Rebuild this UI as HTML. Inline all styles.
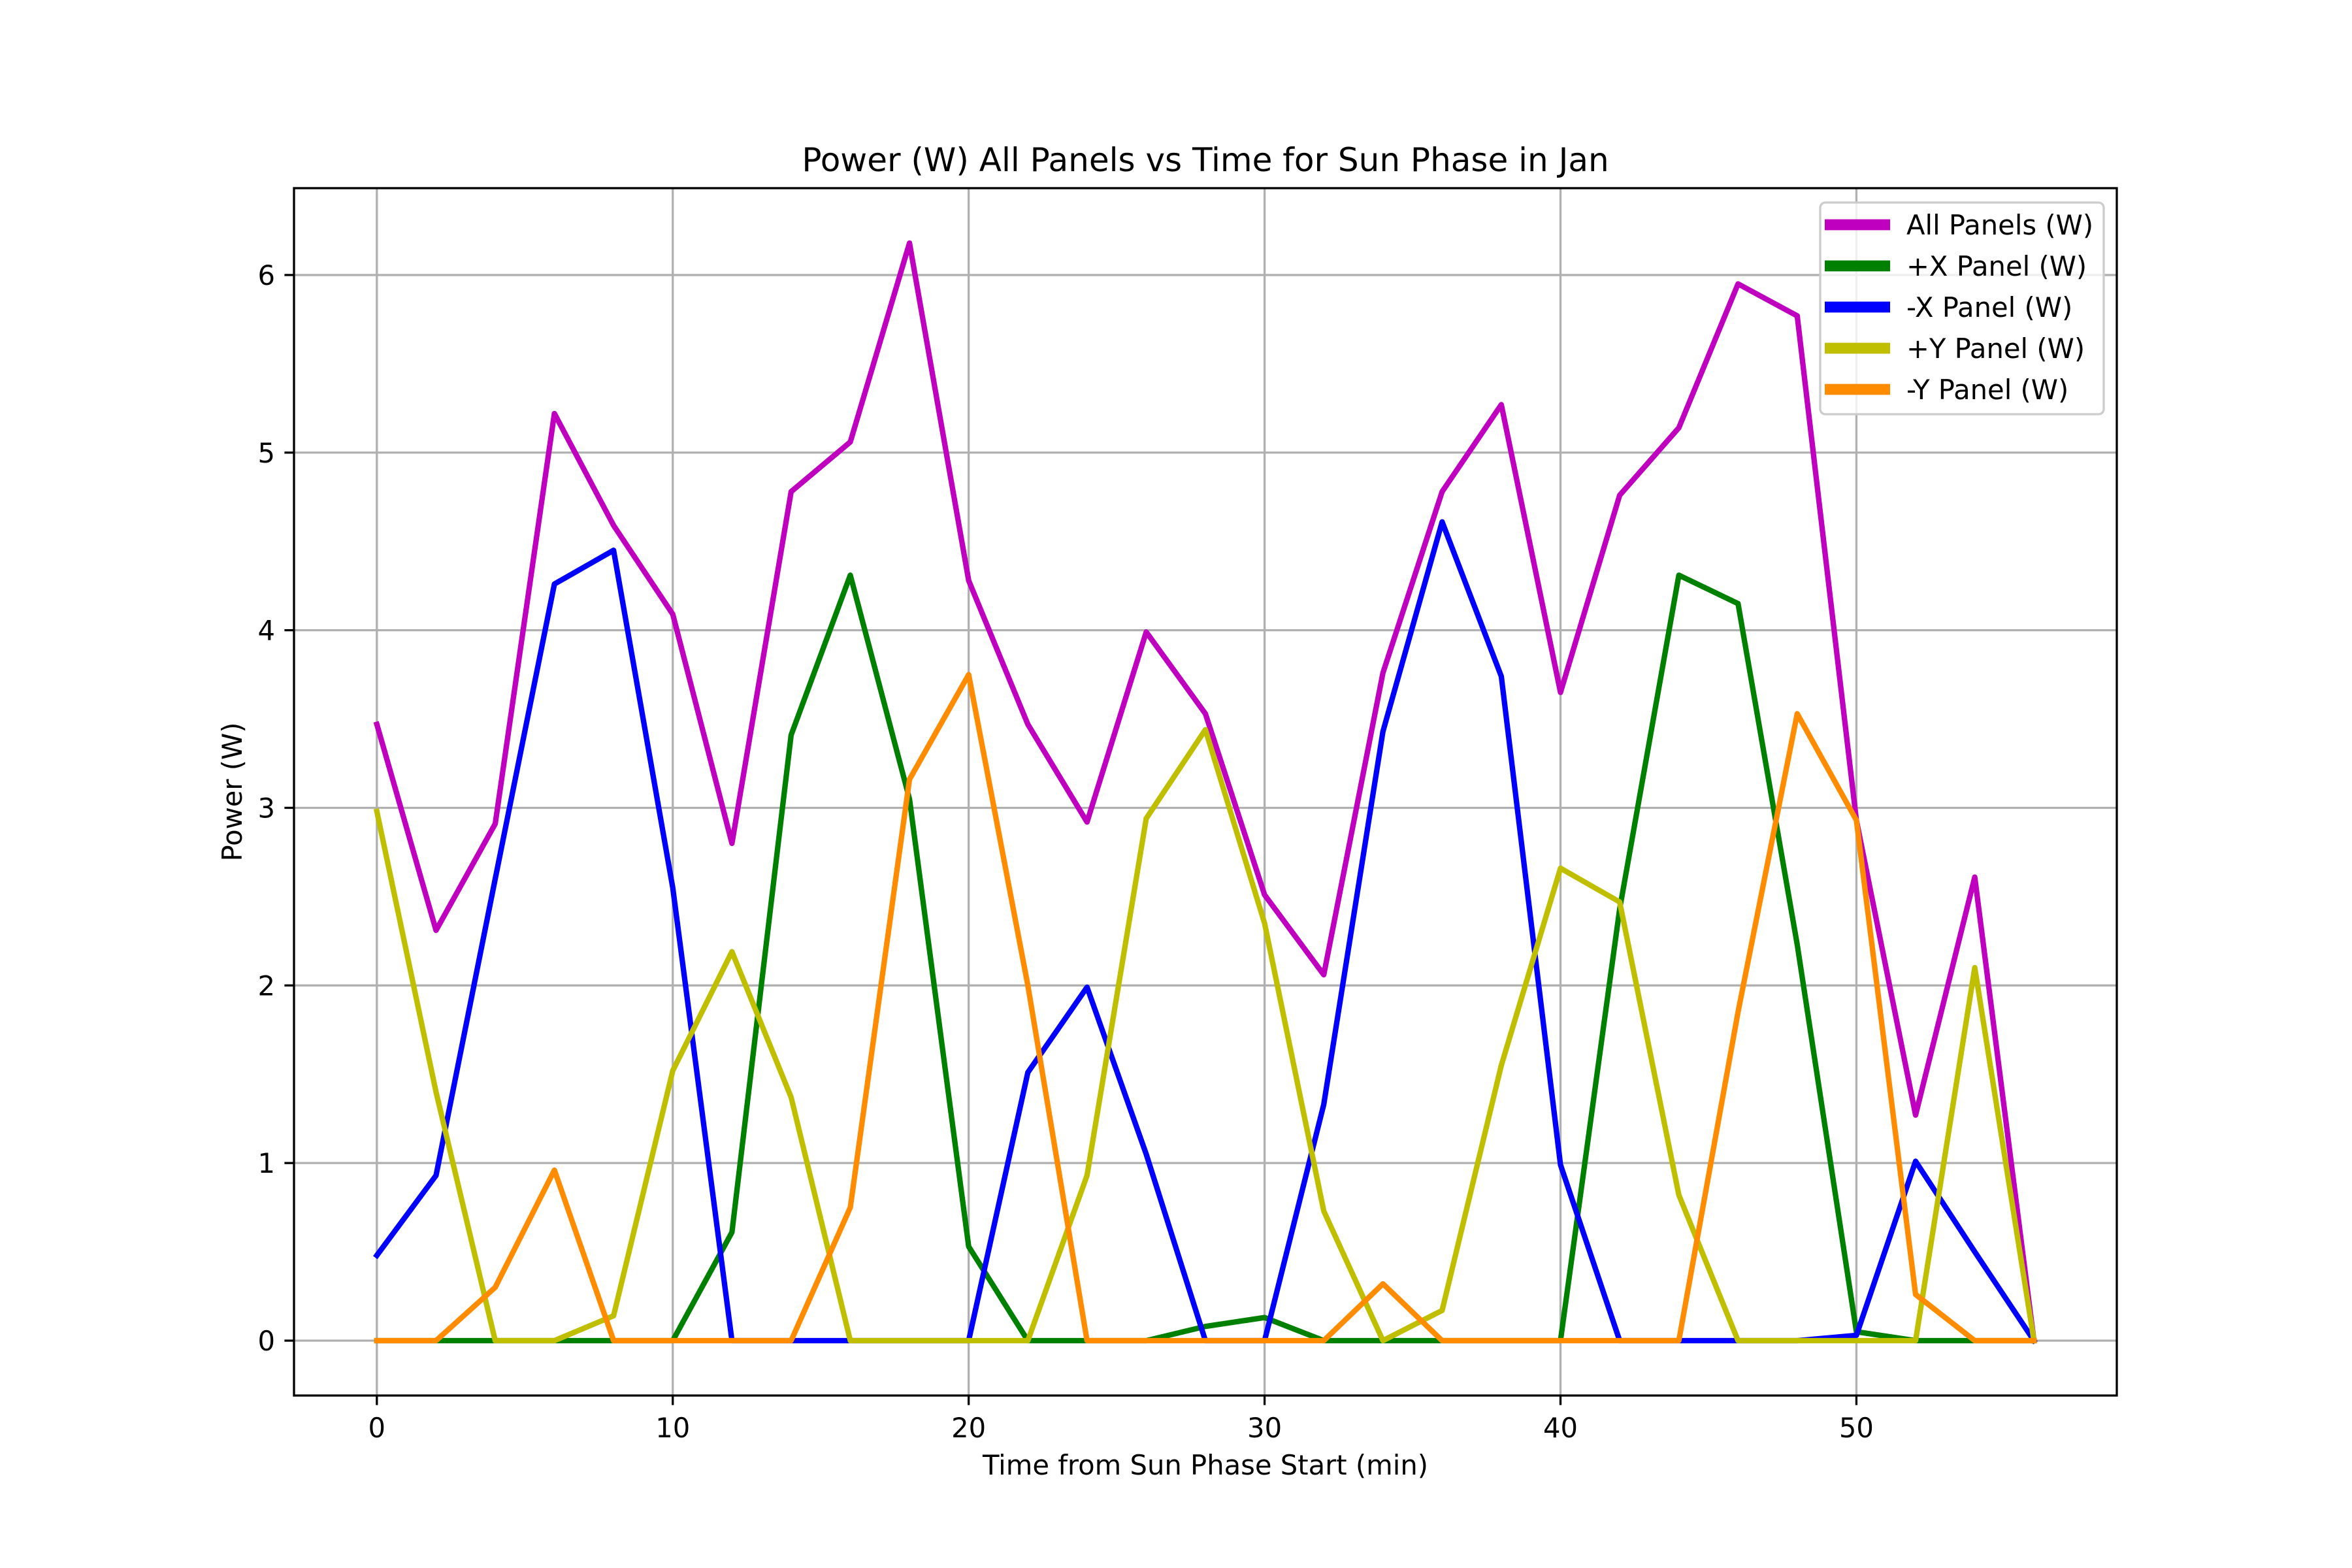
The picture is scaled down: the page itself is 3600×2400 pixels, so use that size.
<!DOCTYPE html>
<html><head><meta charset="utf-8"><style>
html,body{margin:0;padding:0;background:#fff}
svg{display:block;font-family:"DejaVu Sans","Liberation Sans",sans-serif}
</style></head><body>
<svg id="chart" width="3600" height="2400" viewBox="0 0 3600 2400" xmlns="http://www.w3.org/2000/svg">
<rect width="3600" height="2400" fill="#fff"/>
</svg>
<script>
const times = [0,2,4,6,8,10,12,14,16,18,20,22,24,26,28,30,32,34,36,38,40,42,44,46,48,50,52,54,56];
const allPanels = [3.47,2.31,2.91,5.22,4.59,4.09,2.80,4.78,5.06,6.18,4.28,3.47,2.92,3.99,3.53,2.51,2.06,3.76,4.78,5.27,3.65,4.76,5.14,5.95,5.77,2.93,1.27,2.61,0];
const plusX = [0,0,0,0,0,0,0.61,3.41,4.31,3.05,0.53,0,0,0,0.08,0.13,0,0,0,0,0,2.43,4.31,4.15,2.23,0.05,0,0,0];
const minusX = [0.48,0.93,2.6,4.26,4.45,2.55,0,0,0,0,0,1.51,1.99,1.05,0,0,1.33,3.43,4.61,3.74,0.99,0,0,0,0,0.03,1.01,0.5,0];
const plusY = [2.98,1.4,0,0,0.14,1.52,2.19,1.37,0,0,0,0,0.93,2.94,3.44,2.35,0.73,0,0.17,1.55,2.66,2.47,0.82,0,0,0,0,2.1,0];
const minusY = [0,0,0.3,0.96,0,0,0,0,0.75,3.16,3.75,2.0,0,0,0,0,0,0.32,0,0,0,0,0,1.85,3.53,2.93,0.26,0,0];
const xTicks = [0,10,20,30,40,50];
const yTicks = [0,1,2,3,4,5,6];
const seriesNames = ["All Panels (W)","+X Panel (W)","-X Panel (W)","+Y Panel (W)","-Y Panel (W)"];
const seriesColors = ["#bf00bf","#008000","#0000ff","#bfbf00","#ff8c00"];

const NS="http://www.w3.org/2000/svg";
const svg=document.getElementById('chart');
const L=450,R=3240,T=288,B=2136;
const allVals=[allPanels,plusX,minusX,plusY,minusY];
const xmin=Math.min(...times),xmax=Math.max(...times);
const flat=allVals.flat();
const ymin0=Math.min(...flat),ymax0=Math.max(...flat);
const xm=(xmax-xmin)*0.05,ym=(ymax0-ymin0)*0.05;
const X0=xmin-xm,X1=xmax+xm,Y0=ymin0-ym,Y1=ymax0+ym;
const sx=v=>L+(v-X0)/(X1-X0)*(R-L);
const sy=v=>B-(v-Y0)/(Y1-Y0)*(B-T);
function mk(tag,attrs,parent){const e=document.createElementNS(NS,tag);for(const k in attrs)e.setAttribute(k,attrs[k]);(parent||svg).appendChild(e);return e;}

const grid=mk('g',{});


xTicks.forEach(t=>{const l=mk('line',{x1:sx(t),x2:sx(t),y1:T,y2:B,stroke:'#b0b0b0','stroke-width':3.3},grid);

});
yTicks.forEach(t=>{const l=mk('line',{x1:L,x2:R,y1:sy(t),y2:sy(t),stroke:'#b0b0b0','stroke-width':3.3},grid);

});

allVals.forEach((vals,i)=>{
 const p=mk('polyline',{points:times.map((t,j)=>sx(t)+','+sy(vals[j])).join(' '),fill:'none',stroke:seriesColors[i],'stroke-width':8.3,'stroke-linejoin':'round','stroke-linecap':'square'});
 
 
});

const frame=mk('rect',{x:L,y:T,width:R-L,height:B-T,fill:'none',stroke:'#000','stroke-width':3.3});



xTicks.forEach(t=>{
 const l=mk('line',{x1:sx(t),x2:sx(t),y1:B,y2:B+14.6,stroke:'#000','stroke-width':3.3});
 
 
 const tx=mk('text',{x:sx(t),y:B+64,'font-size':41.7,'text-anchor':'middle',fill:'#000'});tx.textContent=t;
 
 
});
yTicks.forEach(t=>{
 const l=mk('line',{x1:L-14.6,x2:L,y1:sy(t),y2:sy(t),stroke:'#000','stroke-width':3.3});
 
 
 const tx=mk('text',{x:L-29,y:sy(t)+15,'font-size':41.7,'text-anchor':'end',fill:'#000'});tx.textContent=t;
 
 
});

const title=mk('text',{x:(L+R)/2,y:262,'font-size':50,'text-anchor':'middle',fill:'#000'});
title.textContent='Power (W) All Panels vs Time for Sun Phase in Jan';


const xl=mk('text',{x:(L+R)/2,y:2257,'font-size':41.7,'text-anchor':'middle',fill:'#000'});
xl.textContent='Time from Sun Phase Start (min)';


const yl=mk('text',{x:0,y:0,'font-size':41.7,'text-anchor':'middle',fill:'#000',transform:`translate(370,${(T+B)/2}) rotate(-90)`});
yl.textContent='Power (W)';



const lg=mk('g',{});


mk('rect',{x:2786,y:310,width:434,height:324,rx:8,fill:'#fff','fill-opacity':0.8,stroke:'#cccccc','stroke-width':3.3},lg);
seriesNames.forEach((n,i)=>{
 const y=344+i*63;
 const l=mk('line',{x1:2793,x2:2893,y1:y,y2:y,stroke:seriesColors[i],'stroke-width':16.7},lg);
 
 
 const t=mk('text',{x:2918,y:y+15,'font-size':41.7,fill:'#000'},lg);t.textContent=n;
 
 
});
</script>
</body></html>
